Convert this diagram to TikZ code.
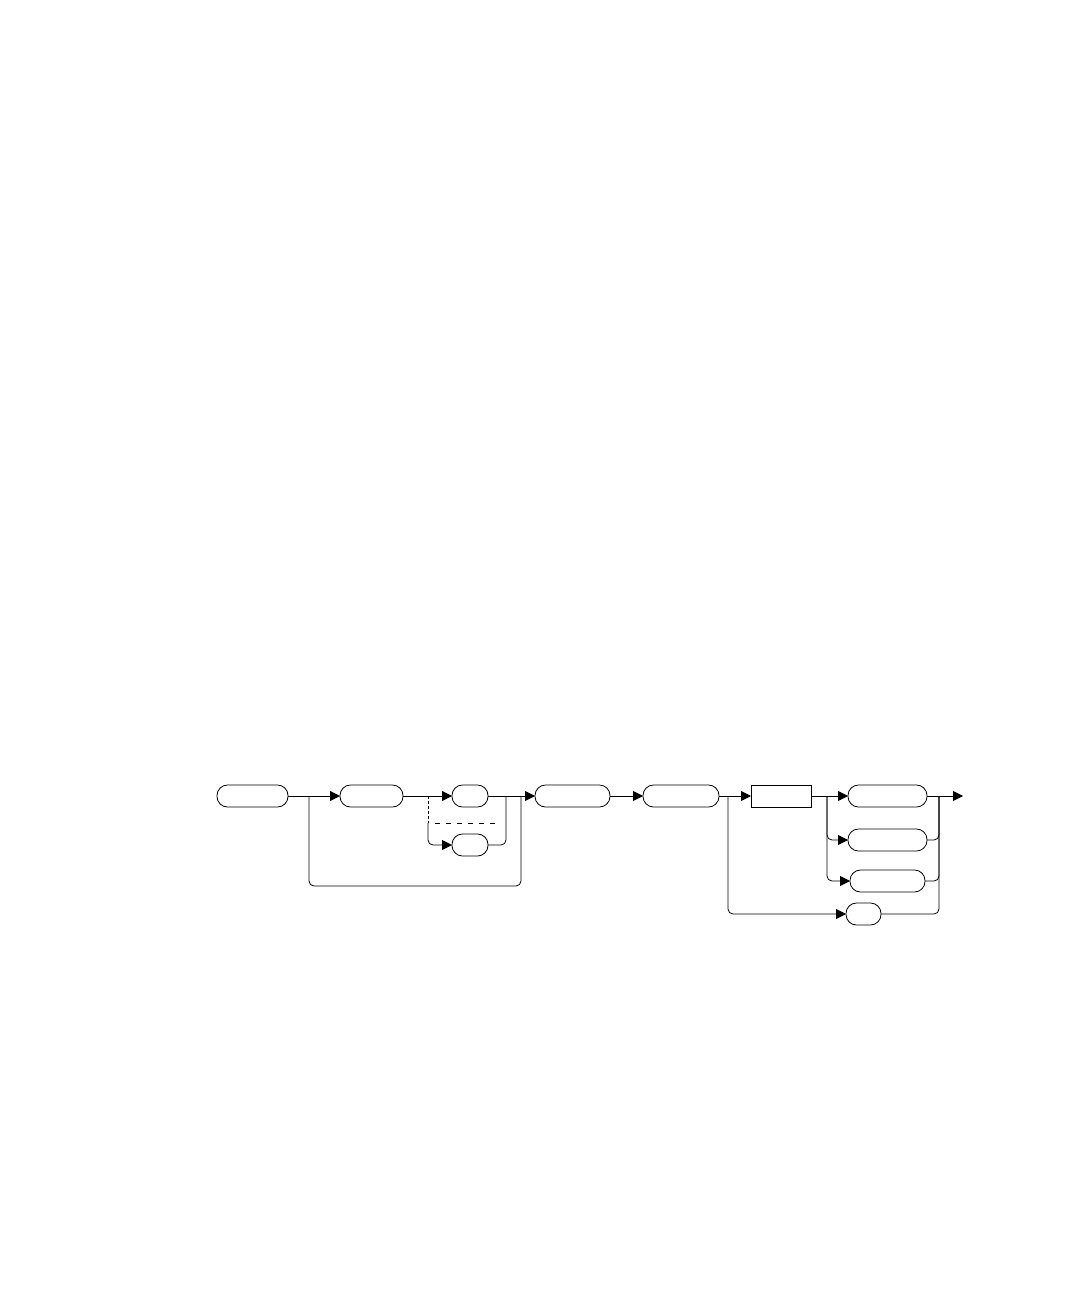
\documentclass[tikz,border=0pt]{standalone}
\usetikzlibrary{positioning,arrows.meta}

\begin{document}
\begin{tikzpicture}[x=1pt,y=-1pt,line width=0.8pt,
		term/.style={ % rounded box of the syntax chart
			draw,rounded corners=10.5pt,minimum height=22pt,inner sep=0pt,outer sep=0pt
		},
		nonterm/.style={draw,minimum height=22pt,inner sep=0pt,outer sep=0pt},
		flow/.style={-{Triangle[length=10pt,width=10pt]}},
		track/.style={rounded corners=5pt}
		]
		\useasboundingbox (0,0) rectangle (1080,1296);
		
		%% boxes of the main row
		\node[term,minimum width=71pt] (a) at (252.5,796) {};
		\node[term,minimum width=63pt,right=52pt of a] (b) {};
		\node[term,minimum width=36pt,right=49pt of b] (c1) {};
		\node[term,minimum width=36pt,below=27pt of c1] (c2) {};
		\node[term,minimum width=75pt,right=47pt of c1] (d) {};
		\node[term,minimum width=76pt,right=33pt of d] (e) {};
		\node[nonterm,minimum width=60pt,right=32pt of e] (f) {};
		\node[term,minimum width=79pt,right=37pt of f] (g1) {};
		\node[term,minimum width=79pt,below=22pt of g1] (g2) {};
		\node[term,minimum width=75pt,below=19pt of g2] (g3) {};
		\node[term,minimum width=35pt,below=11pt of g3,xshift=-24pt] (h) {};
		
		%% branch points
		\coordinate (j1) at (309,796);
		\coordinate (j2) at (428,796);
		\coordinate (j2d) at (428,823);
		\coordinate (j3) at (506,796);
		\coordinate (j4) at (521,796);
		\coordinate (j5) at (728,796);
		\coordinate (j6) at (827,796);
		\coordinate (j7) at (939,796);
		\coordinate (bot) at (415,886);
		\coordinate (out) at (963,796);
		
		% main line
		\draw[flow] (a) -- (b);
		\draw[flow] (b) -- (c1);
		\draw[flow] (c1) -- (d);
		\draw[flow] (d) -- (e);
		\draw[flow] (e) -- (f);
		\draw[flow] (f) -- (g1);
		\draw[flow] (g1) -- (out);
		
		% bypass loop
		\draw[track] (j1) |- (bot) -| (j4);
		
		% choice c1 / c2
		\draw[densely dashed] (j2) -- (j2d);
		\draw[flow,track] (j2d) |- (c2);
		\draw[track] (c2) -| (j3);
		\draw[dash pattern=on 5pt off 6pt] (435,823) -- (500,823);
		
		% choice g1 / g2 / g3 / h
		\draw[flow,track] (j5) |- (h);
		\draw[flow,track] (j6) |- (g2);
		\draw[flow,track] (j6) |- (g3);
		\draw[track] (g2) -| (j7);
		\draw[track] (g3) -| (j7);
		\draw[track] (h) -| (j7);
	\end{tikzpicture}
\end{document}
